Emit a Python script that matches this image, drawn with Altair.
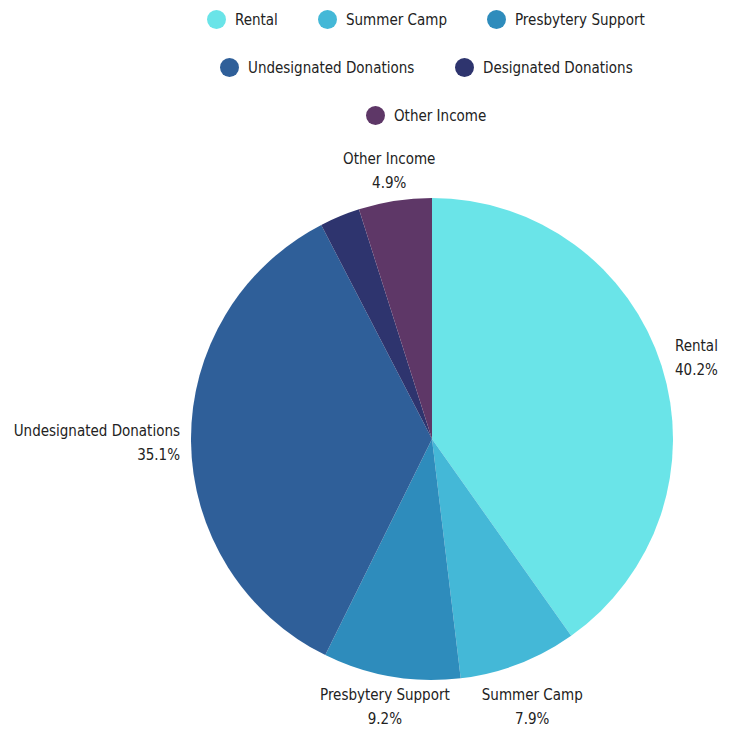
import altair as alt
import pandas as pd

categories = ["Rental", "Summer Camp", "Presbytery Support",
              "Undesignated Donations", "Designated Donations", "Other Income"]
values = [40.2, 7.9, 9.2, 35.1, 2.7, 4.9]
colors = ["#6ae4e8", "#44b8d7", "#2e8cbc", "#2f5f99", "#2e346e", "#5e3767"]

legend_rows = [categories[0:3], categories[3:5], categories[5:6]]
color_rows = [colors[0:3], colors[3:5], colors[5:6]]

df = pd.DataFrame({
    "category": categories,
    "value": values,
    "idx": list(range(len(categories))),
})

FONT = "DejaVu Sans Condensed"
FS = 15
CX, CY = 424, 431  # pie centre inside plot area
R = 241

base = alt.Chart(df).transform_joinaggregate(
    total="sum(value)"
).transform_window(
    cum="sum(value)", sort=[alt.SortField("idx")], frame=[None, 0]
).transform_calculate(
    start="(datum.cum - datum.value) / datum.total * 2 * PI",
    end="datum.cum / datum.total * 2 * PI",
    mid="(datum.cum - datum.value / 2) / datum.total * 2 * PI",
    label="datum.category + '\\n' + format(datum.value, '.1f') + '%'",
)

legend_pos = [(199, 2), (212, 50), (358, 98)]

arc_layers = []
for row, cols, (lx, ly) in zip(legend_rows, color_rows, legend_pos):
    layer = base.transform_filter(
        alt.FieldOneOfPredicate(field="category", oneOf=row)
    ).mark_arc(radius=R, stroke=None).encode(
        theta=alt.Theta("start:Q", scale=None),
        theta2="end:Q",
        x=alt.value(CX),
        y=alt.value(CY),
        color=alt.Color(
            "category:N",
            scale=alt.Scale(domain=row, range=cols),
            legend=alt.Legend(
                title=None, orient="none", legendX=lx, legendY=ly,
                direction="horizontal", symbolType="circle", symbolSize=360,
                symbolStrokeWidth=0, labelFont=FONT, labelFontSize=FS,
                labelColor="#222222", labelOffset=9, columnPadding=40,
                labelLimit=0, padding=0,
            ),
        ),
    )
    arc_layers.append(layer)


def text_layer(cat, align, radius, dy):
    return base.transform_filter(
        alt.FieldEqualPredicate(field="category", equal=cat)
    ).mark_text(
        align=align, baseline="middle", lineBreak="\n", font=FONT,
        fontSize=FS, color="#222222", lineHeight=24, dy=dy,
    ).encode(
        theta=alt.Theta("mid:Q", scale=None),
        radius=alt.value(radius),
        x=alt.value(CX),
        y=alt.value(CY),
        text="label:N",
    )


# label placement style per slice (Designated Donations carries no label)
label_style = [
    ("Rental", "left", 255, -16),
    ("Summer Camp", "center", 279, -4),
    ("Presbytery Support", "center", 279, -19),
    ("Undesignated Donations", "right", 252, -10),
    ("Other Income", "center", 279, -4),
]
text_layers = [text_layer(*s) for s in label_style]

chart = alt.layer(
    *arc_layers, *text_layers
).resolve_scale(
    color="independent"
).properties(
    width=718, height=720, padding=0,
    autosize=alt.AutoSizeParams(type="none"),
).configure_view(stroke=None)

chart.save("out.html", embed_options={"renderer": "svg", "actions": False})
